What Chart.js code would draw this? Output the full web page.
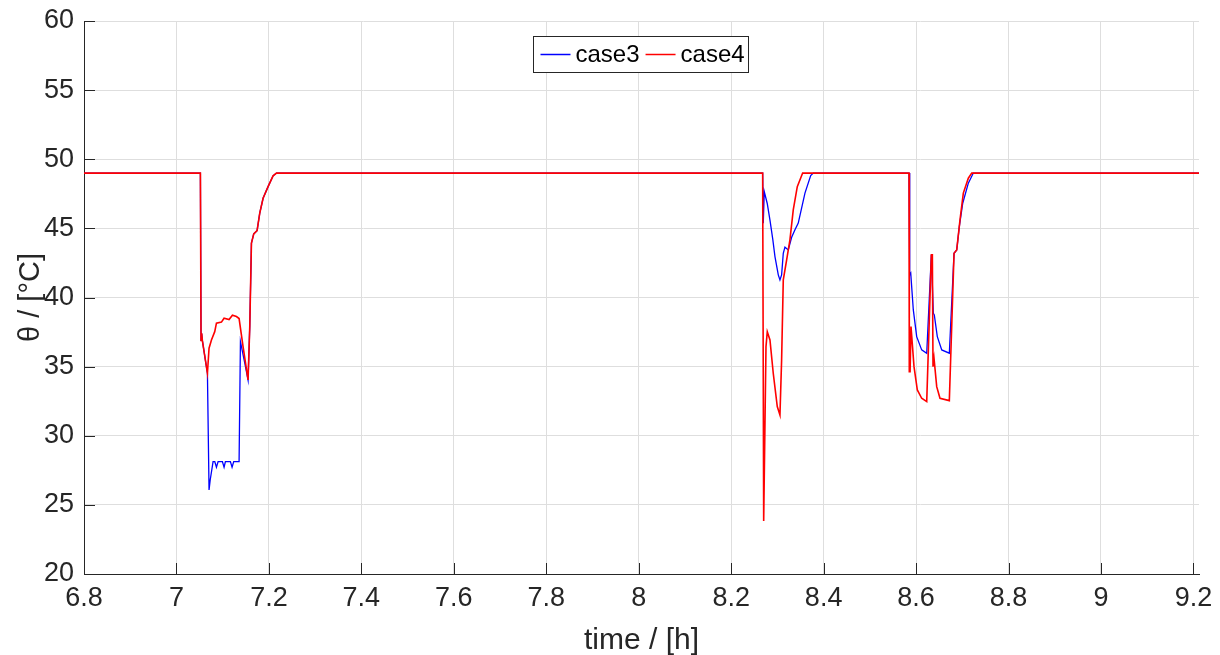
<!DOCTYPE html>
<html>
<head>
<meta charset="utf-8">
<script src="https://cdn.jsdelivr.net/npm/chart.js@4"></script>
<style>
  body { margin: 0; background: #fff; }
</style>
</head>
<body>
<canvas id="lineChart" width="1220" height="655"></canvas>
<script>
// time in hours, temperature in degC
var time3 = [6.8, 7.0518, 7.0532, 7.0546, 7.0560, 7.0670, 7.0705, 7.0730, 7.0792, 7.0829, 7.0865, 7.0901, 7.0994,
  7.1030, 7.1059, 7.1167, 7.1203, 7.1239, 7.1355, 7.1384, 7.1478, 7.1549, 7.1586, 7.1622, 7.1672, 7.1744,
  7.1802, 7.1874, 7.1982, 7.2090, 7.2164,
  8.2681, 8.2694, 8.2708, 8.2716, 8.2730, 8.2780, 8.2839, 8.2900, 8.2947, 8.3019, 8.3055, 8.3091, 8.3127, 8.3163, 8.3235,
  8.3308, 8.3380, 8.3451, 8.3596, 8.3720, 8.3776,
  8.5847, 8.5862, 8.5884, 8.5940, 8.6013, 8.6121, 8.6230, 8.6330, 8.6373, 8.6394, 8.6459, 8.6555, 8.6719,
  8.6821, 8.6879, 8.6935, 8.7009, 8.7130, 8.7238, 9.212];
var temp3 = [49, 49, 36.9, 37.4, 36.9, 34.52, 26.08, 26.8, 28.13, 28.13, 27.72, 28.13, 28.13,
  27.72, 28.13, 28.13, 27.72, 28.13, 28.13, 36.81, 35.25, 34.04, 37.9, 43.93, 44.6, 44.84,
  46.1, 47.18, 48.02, 48.8, 49,
  49, 45.38, 45.38, 47.66, 47.66, 46.8, 45.6, 44.2, 42.96, 41.64, 41.27, 41.64, 43.2, 43.64, 43.44,
  44.36, 44.9, 45.38, 47.55, 48.82, 49,
  49, 41.64, 41.76, 39.1, 37.17, 36.21, 35.97, 43.08, 38.86, 38.74, 37.17, 36.21, 35.97,
  43.2, 43.44, 45.13, 46.82, 48.27, 49, 49];

var time4 = [6.8, 7.0518, 7.0532, 7.0546, 7.0560, 7.0670, 7.0705, 7.0757, 7.0828, 7.0865, 7.0973, 7.1030,
  7.1138, 7.1211, 7.1298, 7.1355, 7.1441, 7.1549, 7.1586, 7.1622, 7.1672, 7.1744, 7.1802, 7.1874,
  7.1982, 7.2090, 7.2164,
  8.2681, 8.2703, 8.2753, 8.2781, 8.2839, 8.2910, 8.2997, 8.3055, 8.3091, 8.3127, 8.3200, 8.3271,
  8.3343, 8.3430, 8.3546,
  8.5847, 8.5853, 8.5870, 8.5890, 8.5955, 8.6027, 8.6121, 8.6230, 8.6330, 8.6352, 8.6366, 8.6388,
  8.6446, 8.6517, 8.6719, 8.6821, 8.6879, 8.6950, 8.7022, 8.7130, 8.7204, 9.212];
var temp4 = [49, 49, 36.9, 37.4, 36.9, 34.52, 36.33, 36.93, 37.53, 38.14, 38.22, 38.5,
  38.41, 38.72, 38.62, 38.48, 36.45, 34.04, 37.9, 43.93, 44.6, 44.84, 46.1, 47.18,
  48.02, 48.8, 49,
  49, 23.84, 36.45, 37.53, 36.93, 34.52, 32.11, 31.5, 35.48, 41.27, 42.72, 44.17,
  46.34, 48.02, 49,
  49, 34.64, 34.64, 37.9, 35.0, 33.31, 32.71, 32.47, 43.08, 43.08, 35.0, 35.6,
  33.55, 32.71, 32.54, 43.2, 43.44, 45.62, 47.55, 48.63, 49, 49];

var xTicks = [6.8, 7, 7.2, 7.4, 7.6, 7.8, 8, 8.2, 8.4, 8.6, 8.8, 9, 9.2];
var seriesNames = ["case3", "case4"];
var seriesColors = ["#0000ff", "#ff0000"];

var textColor = "#262626";
var fontFam = "'Liberation Sans', Arial, sans-serif";

function toPoints(xs, ys){
  return xs.map(function(x, i){ return { x: x, y: ys[i] }; });
}

// MATLAB style ticks pointing into the plot + boxed legend inside the axes
var matlabBits = {
  id: "matlabBits",
  afterDraw: function(chart){
    var ctx = chart.ctx;
    var xs = chart.scales.x, ys = chart.scales.y, area = chart.chartArea;
    ctx.save();
    ctx.strokeStyle = textColor;
    ctx.lineWidth = 1;
    ctx.beginPath();
    xs.ticks.forEach(function(t){
      var px = Math.round(xs.getPixelForValue(t.value)) + 0.5;
      ctx.moveTo(px, area.bottom);
      ctx.lineTo(px, area.bottom - 11);
    });
    ys.ticks.forEach(function(t){
      var py = Math.round(ys.getPixelForValue(t.value)) + 0.5;
      ctx.moveTo(area.left, py);
      ctx.lineTo(area.left + 11, py);
    });
    ctx.stroke();

    // legend box
    var bx = 533.5, by = 36.5, bw = 215, bh = 36;
    ctx.fillStyle = "#fff";
    ctx.fillRect(bx, by, bw, bh);
    ctx.strokeStyle = textColor;
    ctx.strokeRect(bx, by, bw, bh);
    ctx.font = "24px " + fontFam;
    ctx.textBaseline = "middle";
    var cx = bx + 7, cy = by + bh / 2;
    chart.data.datasets.forEach(function(ds){
      ctx.strokeStyle = ds.borderColor;
      ctx.lineWidth = 1.5;
      ctx.beginPath();
      ctx.moveTo(cx, cy);
      ctx.lineTo(cx + 30, cy);
      ctx.stroke();
      ctx.fillStyle = "#000";
      ctx.fillText(ds.label, cx + 35, cy + 1);
      cx += 35 + ctx.measureText(ds.label).width + 6;
    });
    ctx.restore();
  }
};

new Chart("lineChart", {
  type: "line",
  data: {
    datasets: [
      {
        label: seriesNames[0],
        data: toPoints(time3, temp3),
        borderColor: seriesColors[0],
        borderWidth: 1.3,
        order: 1
      },
      {
        label: seriesNames[1],
        data: toPoints(time4, temp4),
        borderColor: seriesColors[1],
        borderWidth: 1.6,
        order: 0
      }
    ]
  },
  options: {
    responsive: false,
    animation: false,
    devicePixelRatio: 1,
    layout: { padding: { top: 21, right: 21, left: 0, bottom: 0 } },
    elements: {
      point: { radius: 0 },
      line: { tension: 0 }
    },
    plugins: {
      legend: { display: false },
      tooltip: { enabled: false }
    },
    scales: {
      x: {
        type: "linear",
        min: 6.8,
        max: 9.212,
        afterFit: function(scale){
          scale.height = 81;
          scale.paddingLeft = 0;
          scale.paddingRight = 0;
        },
        afterBuildTicks: function(scale){
          scale.ticks = xTicks.map(function(v){ return { value: v }; });
        },
        grid: { color: "#dedede", drawTicks: false },
        border: { color: textColor, width: 1 },
        ticks: {
          padding: 8,
          color: textColor,
          maxRotation: 0,
          autoSkip: false,
          font: { family: fontFam, size: 27 },
          callback: function(v){ return String(+v.toFixed(1)); }
        },
        title: {
          display: true,
          text: "time / [h]",
          color: textColor,
          font: { family: fontFam, size: 30 },
          padding: { top: 0, bottom: -4 }
        }
      },
      y: {
        min: 20,
        max: 60,
        afterFit: function(scale){
          scale.width = 84;
          scale.paddingTop = 0;
          scale.paddingBottom = 0;
        },
        grid: { color: "#dedede", drawTicks: false },
        border: { color: textColor, width: 1 },
        ticks: {
          stepSize: 5,
          padding: 10,
          color: textColor,
          font: { family: fontFam, size: 27 }
        },
        title: {
          display: true,
          text: "θ / [°C]",
          color: textColor,
          font: { family: fontFam, size: 29 },
          padding: { top: 14, bottom: 0 }
        }
      }
    }
  },
  plugins: [matlabBits]
});
</script>
</body>
</html>
